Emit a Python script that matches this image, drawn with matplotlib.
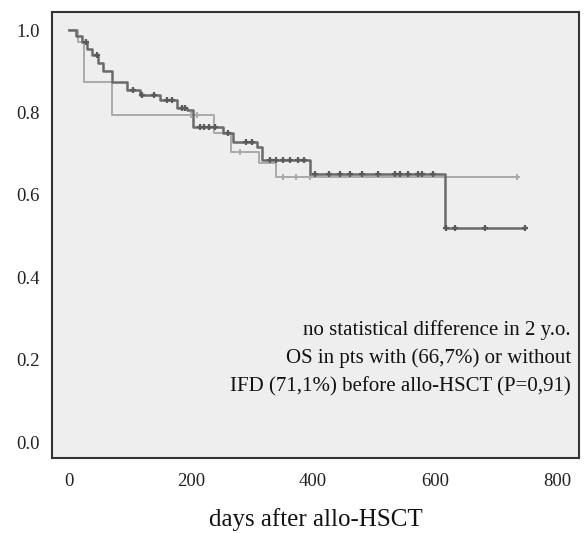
import numpy as np
import matplotlib
matplotlib.use("Agg")
import matplotlib.pyplot as plt

# Kaplan-Meier steps (days, survival)
days_ifd = [0, 15, 25, 70, 238, 265, 312, 340, 734]
surv_ifd = [1.0, 0.97, 0.874, 0.794, 0.75, 0.704, 0.677, 0.643, 0.643]
cens_ifd_days = [200, 210, 280, 350, 372, 395, 734]

days_noifd = [0, 12, 22, 30, 38, 48, 56, 70, 95, 116, 149, 177, 193, 203, 252, 269, 308, 316, 395, 616, 748]
surv_noifd = [1.0, 0.985, 0.97, 0.955, 0.94, 0.92, 0.90, 0.874, 0.854, 0.842, 0.83, 0.81, 0.806,
              0.765, 0.75, 0.728, 0.716, 0.684, 0.65, 0.519, 0.519]
cens_noifd_days = [28, 45, 105, 120, 140, 160, 168, 185, 190, 215, 222, 230, 240, 260, 290, 300,
                   330, 340, 350, 362, 375, 385, 403, 426, 444, 461, 480, 507, 534, 543, 556,
                   572, 579, 597, 618, 633, 682, 748]

xticks = [0, 200, 400, 600, 800]
yticks = [0.0, 0.2, 0.4, 0.6, 0.8, 1.0]

note = ("no statistical difference in 2 y.o.\n"
        "OS in pts with (66,7%) or without\n"
        "IFD (71,1%) before allo-HSCT (P=0,91)")


def surv_at(days, surv, t):
    idx = np.searchsorted(days, t, side="right") - 1
    return surv[idx]


plt.rcParams["font.family"] = ["Liberation Serif", "DejaVu Serif"]

fig = plt.figure(figsize=(5.84, 5.33), dpi=100)
ax = fig.add_axes([52 / 584, 1 - 458 / 533, 527 / 584, 446 / 533])
ax.set_facecolor("#eeeeee")

ax.step(days_ifd, surv_ifd, where="post", color="#aaaaaa", lw=1.4)
ax.plot(cens_ifd_days, [surv_at(days_ifd, surv_ifd, t) for t in cens_ifd_days],
        ls="none", marker="+", ms=5, mew=1.4, color="#aaaaaa")

ax.step(days_noifd, surv_noifd, where="post", color="#6a6a6a", lw=1.8)
ax.plot(cens_noifd_days, [surv_at(days_noifd, surv_noifd, t) for t in cens_noifd_days],
        ls="none", marker="+", ms=5, mew=1.6, color="#5a5a5a")

ax.set_xlim(-28, 836)
ax.set_ylim(-0.0388, 1.0437)
ax.set_xticks(xticks)
ax.set_xticklabels([str(v) for v in xticks])
ax.set_yticks(yticks)
ax.set_yticklabels(["%.1f" % v for v in yticks])
ax.tick_params(length=0, labelsize=13.5, colors="#222222")
ax.tick_params(axis="x", pad=11)
ax.tick_params(axis="y", pad=9)

for sp in ax.spines.values():
    sp.set_color("#333333")
    sp.set_linewidth(1.5)

ax.text(0.985, 0.138, note, transform=ax.transAxes, ha="right", va="bottom",
        fontsize=15, color="#111111", linespacing=1.6)

ax.set_xlabel("days after allo-HSCT", fontsize=18, color="#111111", labelpad=13)

fig.savefig("out.png", dpi=100, facecolor="white")
